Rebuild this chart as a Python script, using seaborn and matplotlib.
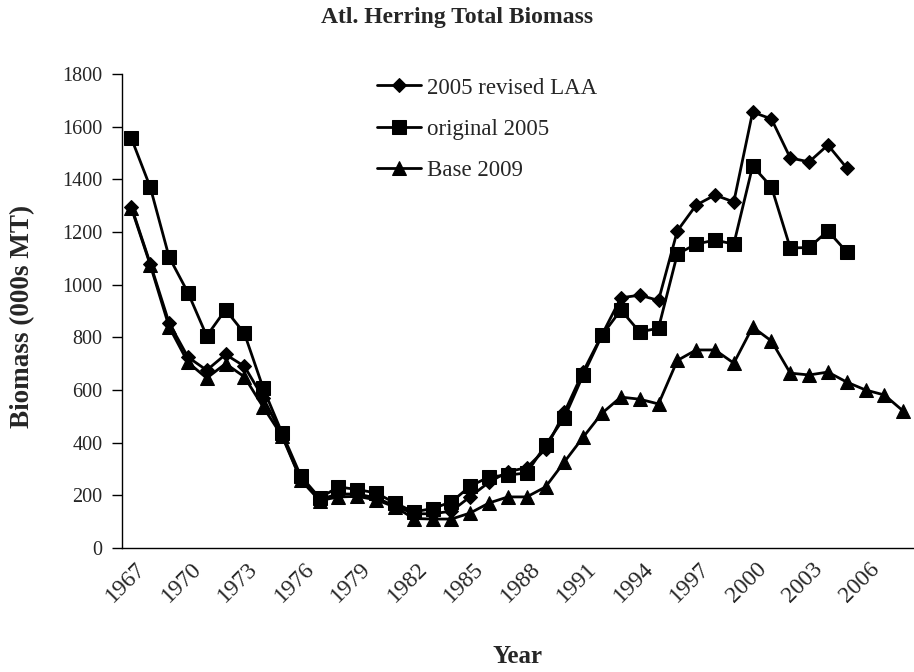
import numpy as np
import pandas as pd
import matplotlib
matplotlib.use("Agg")
import matplotlib.pyplot as plt
import matplotlib.transforms as mtransforms
import seaborn as sns

years = list(range(1967, 2009))

# 2005 revised LAA (1967-2005)
revised_laa = [1295, 1080, 855, 725, 675, 735, 690, 570, 430, 260,
               185, 205, 205, 190, 160, 130, 130, 140, 195, 250,
               290, 305, 375, 515, 670, 810, 950, 960, 940, 1204,
               1302, 1340, 1314, 1655, 1629, 1481, 1466, 1530, 1443]

# original 2005 (1967-2005)
original_2005 = [1555, 1370, 1105, 970, 805, 905, 815, 607, 437, 273,
                 190, 232, 222, 209, 171, 137, 150, 175, 235, 270,
                 277, 285, 391, 495, 657, 808, 904, 820, 835, 1116,
                 1154, 1169, 1154, 1450, 1371, 1139, 1141, 1204, 1124]

# Base 2009 (1967-2008)
base_2009 = [1290, 1075, 840, 705, 645, 700, 650, 535, 425, 258,
             180, 194, 196, 183, 156, 112, 110, 110, 133, 171,
             194, 194, 232, 327, 421, 512, 573, 565, 547, 712,
             752, 752, 702, 839, 786, 664, 657, 668, 630, 600,
             581, 520]

series = [("2005 revised LAA", revised_laa, "D", 7.5),
          ("original 2005", original_2005, "s", 10),
          ("Base 2009", base_2009, "^", 10)]

sns.set_style("white")
plt.rcParams['font.family'] = ['Liberation Serif', 'DejaVu Serif']

fig = plt.figure(figsize=(9.14, 6.72), dpi=100)
ax = fig.add_axes([0.1335, 0.1845, 0.865, 0.7055])

for name, vals, mk, ms in series:
    df = pd.DataFrame({"Year": years[:len(vals)], "Biomass": vals})
    sns.lineplot(data=df, x="Year", y="Biomass", ax=ax, color="black",
                 linewidth=2, marker=mk, markersize=ms,
                 markeredgecolor="black", markerfacecolor="black", label=name)

ax.set_xlim(1966.5, 2008.5)
ax.set_ylim(0, 1800)
ax.set_yticks(range(0, 1801, 200))
ax.set_xticks(range(1967, 2008, 3))
ax.set_xticks(np.arange(1966.5, 2008.6, 1), minor=True)
ax.tick_params(axis="x", which="major", length=0, labelsize=17, pad=7.5)
ax.tick_params(axis="x", which="minor", length=7, width=1, direction="out", color="black")
ax.tick_params(axis="y", length=7, width=1, direction="out", color="black",
               labelsize=14.5, left=True, pad=7)
shift = mtransforms.ScaledTranslation(3 / 100, 0, fig.dpi_scale_trans)
for lab in ax.get_xticklabels():
    lab.set_rotation(45)
    lab.set_ha("right")
    lab.set_va("top")
    lab.set_rotation_mode("anchor")
    lab.set_transform(lab.get_transform() + shift)

for s in ["top", "right"]:
    ax.spines[s].set_visible(False)
for s in ["left", "bottom"]:
    ax.spines[s].set_color("black")
    ax.spines[s].set_linewidth(1)

fig.text(0.5, 1 - 18 / 672, "Atl. Herring Total Biomass", fontsize=17,
         fontweight="bold", ha="center", va="center")
ax.set_ylabel("Biomass (000s MT)", fontsize=19.5, fontweight="bold", va="center")
ax.yaxis.set_label_coords(-(122 - 23) / 791, (548 - 316) / 474)
ax.set_xlabel("Year", fontsize=18, fontweight="bold", va="center")
ax.xaxis.set_label_coords(0.5, -(656 - 548) / 474)

ax.legend(loc="upper left", bbox_to_anchor=(0.297, 1.036), frameon=False,
          fontsize=16.5, handlelength=1.9, labelspacing=0.88, handletextpad=0.26)

fig.savefig("out.png", dpi=100)
